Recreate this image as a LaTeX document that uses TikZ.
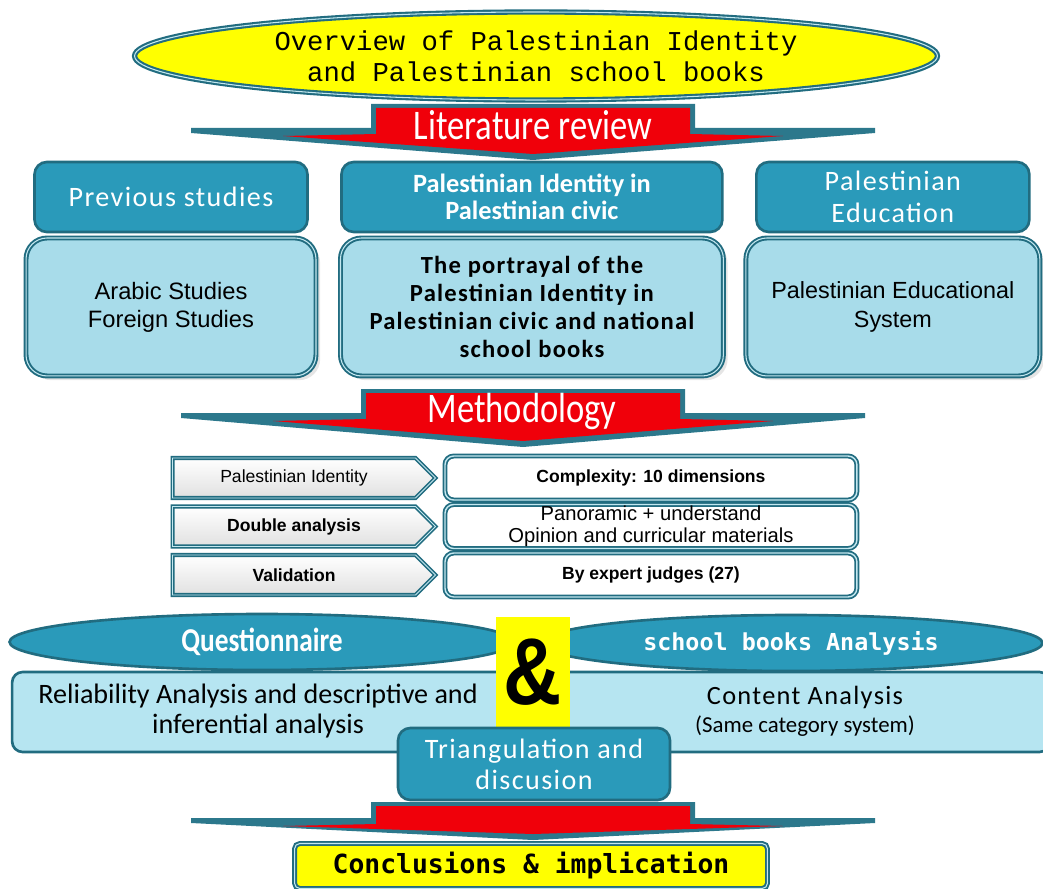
\documentclass[tikz,border=0pt]{standalone}
\usepackage{fontspec}
\setmainfont{Carlito}
\newfontfamily\condf[FakeStretch=0.82]{Carlito}
\newfontfamily\spacedf[LetterSpace=5]{Carlito}
\newfontfamily\arialf{Liberation Sans}
\newfontfamily\ampf[FakeStretch=0.85]{Liberation Sans}
\newfontfamily\monof{DejaVu Sans Mono}
\newfontfamily\thinmonof{Liberation Mono}
\usepackage{tikz}
\usetikzlibrary{shapes.geometric,shapes.symbols,positioning,shadows}

\definecolor{headfill}{RGB}{42,154,186}
\definecolor{bordteal}{RGB}{33,108,128}
\definecolor{lightfill}{RGB}{168,220,234}
\definecolor{paleblue}{RGB}{182,229,241}
\definecolor{lightline}{RGB}{196,232,240}
\definecolor{bannerteal}{RGB}{44,120,140}
\definecolor{bannerred}{RGB}{240,0,10}
\definecolor{yel}{RGB}{255,255,0}

% wide down arrow: centre x, top, wing line, tip
\newcommand{\banner}[4]{%
\fill[bannerteal] ({#1-162},#2) -- ({#1+162},#2) -- ({#1+162},#3) -- ({#1+342},#3) -- ({#1+342},{#3+5})
  -- (#1,#4) -- ({#1-342},{#3+5}) -- ({#1-342},#3) -- ({#1-162},#3) -- cycle;
\fill[bannerred] ({#1-157},{#2+4}) -- ({#1+157},{#2+4}) -- ({#1+157},{#3+6}) -- ({#1+250},{#3+8})
  -- (#1,{#4-6}) -- ({#1-250},{#3+8}) -- ({#1-157},{#3+6}) -- cycle;
}

\begin{document}
\begin{tikzpicture}[x=0.02cm,y=-0.02cm,on grid,
hbox/.style={rectangle,rounded corners=7pt,fill=headfill,draw=bordteal,line width=1.5pt,
  text=white,align=center,minimum height=1.4cm,inner sep=0pt},
lbox/.style={rectangle,rounded corners=12pt,fill=lightfill,draw=bordteal,line width=1.1pt,
  double=lightline,double distance=0.6pt,align=center,minimum height=2.76cm,inner sep=0pt,
  drop shadow={opacity=0.2}},
mlab/.style={signal,signal to=east,signal pointer angle=90,top color=white,bottom color=black!12,
  draw=bordteal,line width=0.9pt,double=lightline,double distance=0.5pt,
  minimum width=5.26cm,minimum height=0.8cm,inner sep=0pt,font=\arialf\fontsize{10}{11}\selectfont},
mbox/.style={rectangle,rounded corners=5pt,fill=white,draw=bordteal,line width=1pt,
  double=lightline,double distance=0.8pt,minimum width=8.24cm,minimum height=0.88cm,
  inner sep=0pt,align=center,font=\arialf\fontsize{10}{12}\selectfont},
tell/.style={ellipse,fill=headfill,draw=bordteal,line width=1.5pt,text=white,
  minimum height=1.12cm,inner sep=0pt},
bantext/.style={text=white,font=\condf\fontsize{24}{26}\selectfont}]
\path[use as bounding box,fill=white] (0,0) rectangle (1043,888);

\node[ellipse,fill=yel,draw=bordteal,line width=1.2pt,double=lightline,double distance=0.6pt,
  minimum width=16.06cm,minimum height=1.76cm,inner sep=0pt,align=center,
  font=\thinmonof\fontsize{15.5}{17.5}\selectfont] (overview) at (536,56)
  {Overview of Palestinian Identity\\and Palestinian school books};

\banner{533}{104}{128}{160}
\node[bantext] (litrev) at (533,125) {Literature review};

\node[hbox,minimum width=5.46cm,font=\spacedf\fontsize{16}{18}\selectfont] (prev) at (171,197) {Previous studies};
\node[hbox,minimum width=7.62cm,font=\bfseries\fontsize{15}{15}\selectfont] (ident) [right=7.22cm of prev]
  {Palestinian Identity in\\Palestinian civic};
\node[hbox,minimum width=5.46cm,font=\spacedf\fontsize{16}{18}\selectfont] (educ) [right=7.22cm of ident]
  {Palestinian\\Education};

\node[lbox,minimum width=5.8cm,font=\arialf\fontsize{13.5}{16}\selectfont] (studies) [below=2.2cm of prev]
  {Arabic Studies\\Foreign Studies};
\node[lbox,minimum width=7.66cm,font=\spacedf\bfseries\fontsize{14}{16}\selectfont] (portray) [below=2.2cm of ident]
  {The portrayal of the\\Palestinian Identity in\\Palestinian civic and national\\school books};
\node[lbox,minimum width=5.88cm,font=\arialf\fontsize{13.3}{16}\selectfont] (system) [below=2.2cm of educ]
  {Palestinian Educational\\System};

\banner{523}{389}{413}{447}
\node[bantext] (method) at (522,411) {Methodology};

\node[mlab] (palid) at (294,478) {Palestinian Identity};
\node[mlab,font=\arialf\bfseries\fontsize{10}{11}\selectfont] (double) [below=0.97cm of palid] {Double analysis};
\node[mlab,font=\arialf\bfseries\fontsize{10}{11}\selectfont] (valid) [below=0.97cm of double] {Validation};
\node[mbox,font=\arialf\bfseries\fontsize{10}{12}\selectfont] (complex) [right=7.14cm of palid] {Complexity: 10 dimensions};
\node[mbox,font=\arialf\fontsize{11.5}{12.5}\selectfont] (panor) [right=7.14cm of double]
  {Panoramic + understand\\Opinion and curricular materials};
\node[mbox,font=\arialf\bfseries\fontsize{10}{12}\selectfont] (judges) [right=7.14cm of valid] {By expert judges (27)};

\node[rectangle,rounded corners=6pt,fill=paleblue,draw=bordteal,line width=1.5pt,
  minimum width=20.76cm,minimum height=1.6cm] (analysis) at (531,712) {};
\node[align=center,font=\fontsize{16}{17}\selectfont] (relia) at (258,711)
  {Reliability Analysis and descriptive and\\inferential analysis};
\node[align=center,font=\spacedf\fontsize{15}{16}\selectfont] (content) at (805,711)
  {Content Analysis\\{\normalfont\fontsize{13}{14}\selectfont(Same category system)}};

\node[tell,minimum width=10.1cm,font=\condf\bfseries\fontsize{19}{20}\selectfont] (quest) at (262,642) {Questionnaire};
\node[tell,minimum width=10.06cm,font=\monof\bfseries\fontsize{13.3}{16}\selectfont] (books) at (791,643)
  {school books Analysis};
\node[rectangle,fill=yel,minimum width=1.48cm,minimum height=2.22cm,inner sep=0pt,
  font=\ampf\bfseries\fontsize{54}{54}\selectfont] (amp) at (533,672) {\&};

\node[hbox,minimum width=5.44cm,minimum height=1.44cm,font=\spacedf\fontsize{16}{17.6}\selectfont] (tri) at (534,764)
  {Triangulation and\\discusion};

\banner{533}{802}{818}{840}

\node[rectangle,rounded corners=3pt,fill=yel,draw=bordteal,line width=1.1pt,double=lightline,
  double distance=0.6pt,minimum width=9.46cm,minimum height=0.9cm,inner sep=0pt,
  font=\monof\bfseries\fontsize{15}{18}\selectfont] (concl) at (531,866) {Conclusions \& implication};
\end{tikzpicture}
\end{document}
